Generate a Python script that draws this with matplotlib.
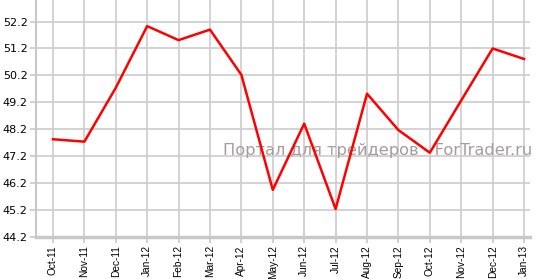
"""Monthly index line chart with watermark."""

import matplotlib

matplotlib.use("Agg")
import matplotlib.pyplot as plt

months = [
    "Oct-11", "Nov-11", "Dec-11", "Jan-12", "Feb-12", "Mar-12", "Apr-12",
    "May-12", "Jun-12", "Jul-12", "Aug-12", "Sep-12", "Oct-12", "Nov-12",
    "Dec-12", "Jan-13",
]
values = [
    47.83, 47.74, 49.74, 52.03, 51.51, 51.9, 50.22,
    45.95, 48.41, 45.24, 49.52, 48.17, 47.33, 49.27,
    51.2, 50.81,
]
yticks = [44.2, 45.2, 46.2, 47.2, 48.2, 49.2, 50.2, 51.2, 52.2]
watermark = "Портал для трейдеров - ForTrader.ru"

fig = plt.figure(figsize=(5.38, 2.79), dpi=100)
ax = fig.add_axes([36 / 538, 42 / 279, 494 / 538, 237 / 279])

x = list(range(len(months)))
ax.plot(x, values, color="#ff0000", linewidth=1.8, zorder=3)

ax.set_xlim(-0.54, 15.19)
ax.set_ylim(44.2, 53.0)
ax.set_xticks(x)
ax.set_xticklabels(months, rotation=90, fontsize=7.3, family="Liberation Sans")
ax.set_yticks(yticks)
ax.set_yticklabels([f"{v:.1f}" for v in yticks], fontsize=8)

ax.grid(True, color="#cccccc", linewidth=1.2)
ax.set_axisbelow(True)
for side in ("top", "right"):
    ax.spines[side].set_visible(False)
ax.spines["bottom"].set_color("#c8c8c8")
ax.spines["bottom"].set_linewidth(2.5)
ax.spines["left"].set_color("#c8c8c8")
ax.spines["left"].set_linewidth(1.5)
ax.tick_params(axis="both", colors="#c8c8c8", labelcolor="black",
               length=4, width=1.2, pad=2)

# watermark sits under the line but over the grid
ax.text(532 / 538, 1 - 151 / 279, watermark, transform=fig.transFigure,
        ha="right", va="center", fontsize=11.7, color="#a99c9c",
        zorder=2.5, clip_on=False)

fig.savefig("out.png", dpi=100)
plt.close(fig)
